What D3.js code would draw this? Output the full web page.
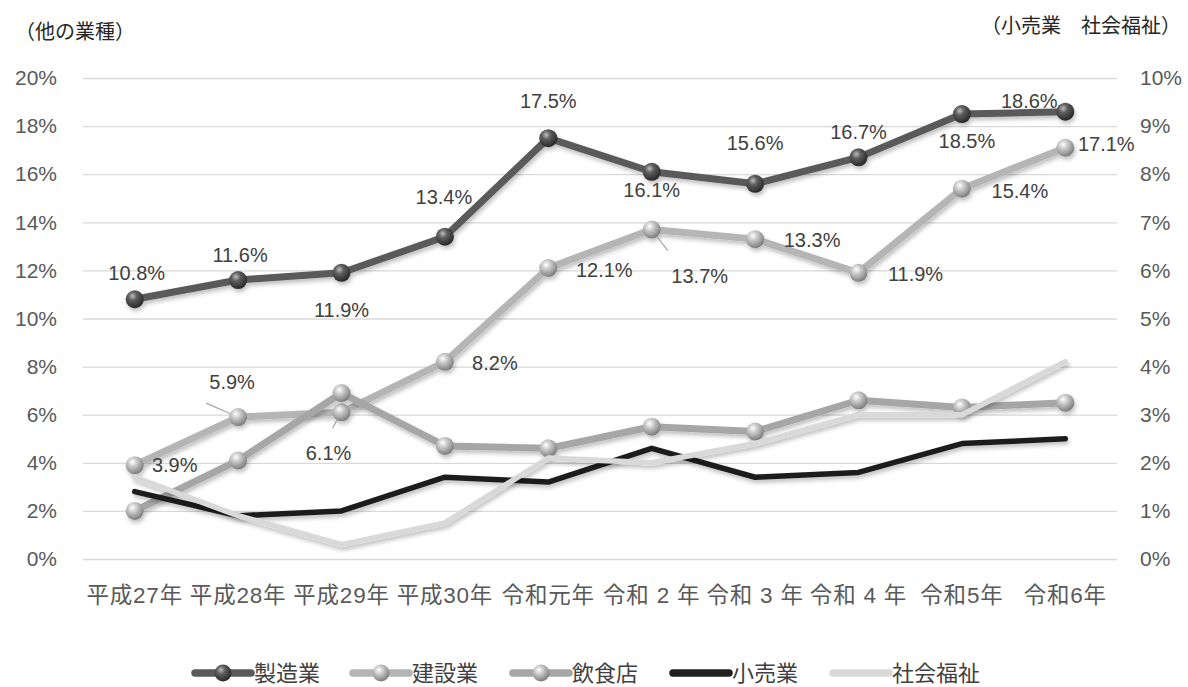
<!DOCTYPE html>
<html>
<head>
<meta charset="utf-8">
<script src="https://cdn.jsdelivr.net/npm/d3@7"></script>
<style>
body { margin: 0; background: #fff; }
text { font-family: "Liberation Sans", "Noto Sans CJK JP", sans-serif; }
</style>
</head>
<body>
<div id="chart-area"></div>
<script>
// data (percent)
const years = ["平成27年", "平成28年", "平成29年", "平成30年", "令和元年", "令和 2 年", "令和 3 年", "令和 4 年", "令和5年", "令和6年"]
const seizo = [10.8, 11.6, 11.9, 13.4, 17.5, 16.1, 15.6, 16.7, 18.5, 18.6]
const kensetsu = [3.9, 5.9, 6.1, 8.2, 12.1, 13.7, 13.3, 11.9, 15.4, 17.1]
const inshoku = [2.0, 4.1, 6.9, 4.7, 4.6, 5.5, 5.3, 6.6, 6.3, 6.5]
const kouri = [1.4, 0.9, 1.0, 1.7, 1.6, 2.3, 1.7, 1.8, 2.4, 2.5]
const fukushi = [1.7, 0.9, 0.3, 0.75, 2.1, 2.0, 2.4, 3.0, 3.0, 4.1]
const leftTicks = [0, 2, 4, 6, 8, 10, 12, 14, 16, 18, 20]
const rightTicks = [0, 1, 2, 3, 4, 5, 6, 7, 8, 9, 10]

// label nudges [dx, dy, leader]
const seizoLabelPos = [[2, -26], [2, -25], [0, 37], [-1, -40], [0, -37], [0, 18], [0, -41], [0, -25], [5, 27], [-36, -11]]
const kensetsuLabelPos = [[40, 0], [-6, -35, 1], [-13, 41, 1], [50, 1], [56, 2], [48, 46, 1], [57, 1], [57, 1], [58, 2], [41, -4]]

const W = 1188, H = 687
const PLOT = { LEFT: 83, RIGHT: 1117, TOP: 78, BOTTOM: 559 }

const svg = d3.select("#chart-area").append("svg")
  .attr("width", W)
  .attr("height", H)

const defs = svg.append("defs")
const shadow = defs.append("filter").attr("id", "shadow")
  .attr("x", "-10%").attr("y", "-10%").attr("width", "120%").attr("height", "130%")
shadow.append("feDropShadow")
  .attr("dx", 1.5).attr("dy", 3).attr("stdDeviation", 2)
  .attr("flood-color", "#000").attr("flood-opacity", 0.25)

function sphere(id, stops) {
  const gr = defs.append("radialGradient").attr("id", id)
    .attr("cx", "38%").attr("cy", "32%").attr("r", "70%")
  stops.forEach(s => gr.append("stop").attr("offset", s[0]).attr("stop-color", s[1]))
}
sphere("ballDark", [["0%", "#bdbdbd"], ["35%", "#5e5e5e"], ["100%", "#262626"]])
sphere("ballLight", [["0%", "#ffffff"], ["35%", "#cbcbcb"], ["100%", "#7a7a7a"]])

// scales
const x = d3.scaleBand().domain(years).range([PLOT.LEFT, PLOT.RIGHT])
const cx = d => x(d) + x.bandwidth() / 2
const yL = d3.scaleLinear().domain([0, 20]).range([PLOT.BOTTOM, PLOT.TOP])
const yR = d3.scaleLinear().domain([0, 10]).range([PLOT.BOTTOM, PLOT.TOP])

// gridlines
svg.append("g")
  .attr("transform", `translate(${PLOT.LEFT}, 0)`)
  .call(d3.axisLeft(yL).tickValues(leftTicks).tickSize(-(PLOT.RIGHT - PLOT.LEFT)).tickFormat(""))
  .call(g => g.select(".domain").remove())
  .call(g => g.selectAll("line").attr("stroke", "#d9d9d9").attr("stroke-width", 1.3))

// left axis
svg.append("g")
  .attr("transform", `translate(${PLOT.LEFT}, 0)`)
  .call(d3.axisLeft(yL).tickValues(leftTicks).tickSize(0).tickPadding(26).tickFormat(d => d + "%"))
  .call(g => g.select(".domain").remove())
  .call(g => g.selectAll("text").attr("font-size", "21px").attr("fill", "#595959")
    .style("font-family", '"Liberation Sans", sans-serif'))

// right axis
svg.append("g")
  .attr("transform", `translate(${PLOT.RIGHT}, 0)`)
  .call(d3.axisRight(yR).tickValues(rightTicks).tickSize(0).tickPadding(23).tickFormat(d => d + "%"))
  .call(g => g.select(".domain").remove())
  .call(g => g.selectAll("text").attr("font-size", "21px").attr("fill", "#595959")
    .style("font-family", '"Liberation Sans", sans-serif'))

// x axis
svg.append("g")
  .attr("transform", `translate(0, ${PLOT.BOTTOM})`)
  .call(d3.axisBottom(x).tickSize(0).tickPadding(28))
  .call(g => g.select(".domain").remove())
  .call(g => g.selectAll("text").attr("font-size", "22.5px").attr("fill", "#595959")
    .attr("letter-spacing", "0.8px"))

// axis titles
svg.append("text")
  .attr("x", 15).attr("y", 39)
  .attr("font-size", "20px").attr("fill", "#262626")
  .text("（他の業種）")
svg.append("text")
  .attr("x", 1181).attr("y", 33)
  .attr("text-anchor", "end")
  .attr("font-size", "20px").attr("fill", "#262626")
  .text("（小売業　社会福祉）")

// series
const series = [
  { name: "製造業", values: seizo, y: yL, color: "#5a5a5a", width: 7, ball: "ballDark" },
  { name: "建設業", values: kensetsu, y: yL, color: "#b5b5b5", width: 7, ball: "ballLight" },
  { name: "飲食店", values: inshoku, y: yL, color: "#a6a6a6", width: 7, ball: "ballLight" },
  { name: "小売業", values: kouri, y: yR, color: "#1f1f1f", width: 5.5, ball: null },
  { name: "社会福祉", values: fukushi, y: yR, color: "#d9d9d9", width: 5.5, ball: null }
]

const line = d3.line()

series.forEach(s => {
  const pts = s.values.map((v, i) => [cx(years[i]), s.y(v)])
  const sg = svg.append("g").attr("filter", "url(#shadow)")
  sg.append("path")
    .attr("d", line(pts))
    .attr("fill", "none")
    .attr("stroke", s.color)
    .attr("stroke-width", s.width)
    .attr("stroke-linejoin", "round")
    .attr("stroke-linecap", "round")
  if (s.ball) {
    sg.selectAll("circle").data(pts).join("circle")
      .attr("cx", d => d[0])
      .attr("cy", d => d[1])
      .attr("r", 9)
      .attr("fill", `url(#${s.ball})`)
  }
})

// data labels
function addLabels(values, pos) {
  values.forEach((v, i) => {
    const px = cx(years[i]), py = yL(v)
    const [dx, dy, leader] = pos[i]
    const tx = px + dx, ty = py + dy
    if (leader) {
      // short leader line from label towards the point, stopping at the marker
      const lx = dy < 0 ? tx - 26 : (dx > 20 ? tx - 32 : tx + 4)
      const ly = dy < 0 ? ty + 21 : ty - 25
      const len = Math.hypot(px - lx, py - ly)
      const k = (len - 9) / len
      svg.append("line")
        .attr("x1", lx).attr("y1", ly)
        .attr("x2", lx + (px - lx) * k).attr("y2", ly + (py - ly) * k)
        .attr("stroke", "#a6a6a6").attr("stroke-width", 1.2)
    }
    svg.append("text")
      .attr("x", tx).attr("y", ty)
      .attr("dy", "0.35em")
      .attr("text-anchor", "middle")
      .attr("font-size", "20px")
      .attr("fill", "#404040")
      .style("font-family", '"Liberation Sans", sans-serif')
      .text(v.toFixed(1) + "%")
  })
}
addLabels(seizo, seizoLabelPos)
addLabels(kensetsu, kensetsuLabelPos)

// legend
const legendX = [195, 353, 513, 673, 833]
const legY = 673
series.forEach((s, i) => {
  const x0 = legendX[i]
  const g = svg.append("g")
  g.append("line")
    .attr("x1", x0).attr("x2", x0 + 56)
    .attr("y1", legY).attr("y2", legY)
    .attr("stroke", s.color)
    .attr("stroke-width", 7.5)
    .attr("stroke-linecap", "round")
  if (s.ball) {
    g.append("circle")
      .attr("cx", x0 + 28).attr("cy", legY).attr("r", 8.5)
      .attr("fill", `url(#${s.ball})`)
  }
  g.append("text")
    .attr("x", x0 + 59).attr("y", legY).attr("dy", "0.36em")
    .attr("font-size", "22px").attr("fill", "#404040")
    .text(s.name)
})
</script>
</body>
</html>
